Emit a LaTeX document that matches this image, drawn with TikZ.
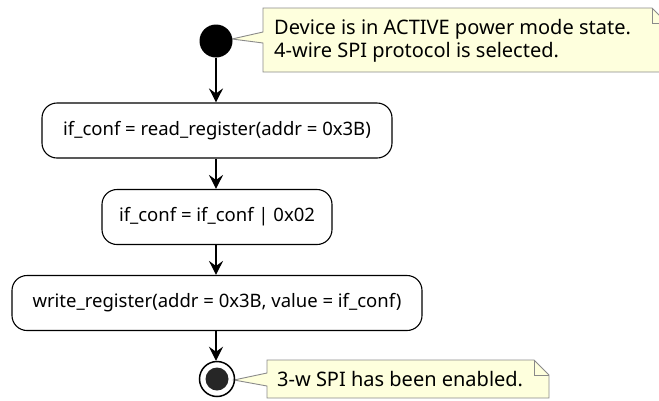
\documentclass[tikz,border=0pt]{standalone}
\usepackage{fontspec}
\setmainfont{Noto Sans}
\usetikzlibrary{arrows.meta}
\definecolor{notefill}{HTML}{FEFFDD}
\definecolor{noteline}{HTML}{8A8A8A}
\begin{document}
\begin{tikzpicture}[x=1pt,y=-1pt,
  act/.style={draw, line width=1.1pt, rounded corners=15pt, minimum height=55pt,
    font=\fontsize{18.5}{20}\selectfont, inner sep=0pt},
  flow/.style={-{Stealth[length=14pt,width=14pt,inset=5pt]}, line width=1.5pt},
  notebox/.style={draw=noteline, fill=notefill, line width=0.9pt, line join=miter},
  notefold/.style={draw=noteline, line width=0.9pt},
  notetext/.style={font=\fontsize{20}{23.5}\selectfont, align=left, anchor=west, inner sep=0pt}]
\useasboundingbox (0,0) rectangle (659,400);
% notes
\draw[notebox] (263,8) -- (652,8) -- (667,23) -- (667,72) -- (263,72) -- (263,43) -- (232,39) -- (263,32) -- cycle;
\draw[notefold] (652,8) -- (652,23) -- (667,23);
\node[notetext] (n1) at (274,41) {Device is in ACTIVE power mode state.\\4-wire SPI protocol is selected.};
\draw[notebox] (267,360) -- (534,360) -- (549,375) -- (549,398) -- (267,398) -- (267,386) -- (234,380) -- (267,373) -- cycle;
\draw[notefold] (534,360) -- (534,375) -- (549,375);
\node[notetext] (n2) at (277,379.5) {3-w SPI has been enabled.};
% flow
\node[circle, fill=black, minimum size=33pt, inner sep=0pt] (start) at (216,41) {};
\node[act, minimum width=350pt] (a1) at (217,130.5) {if\_conf = read\_register(addr = 0x3B)};
\node[act, minimum width=230pt] (a2) at (217,217) {if\_conf = if\_conf | 0x02};
\node[act, minimum width=410pt] (a3) at (217,303) {write\_register(addr = 0x3B, value = if\_conf)};
\node[circle, draw, line width=1.5pt, minimum size=35pt, inner sep=0pt] (stop) at (217,379) {};
\node[circle, fill=black!85, minimum size=23pt, inner sep=0pt] (stopdot) at (stop) {};
\draw[flow] (start.south) -- (start.south |- a1.north);
\draw[flow] (a1.south -| start) -- (start |- a2.north);
\draw[flow] (a2.south -| start) -- (start |- a3.north);
\draw[flow] (a3.south -| start) -- (start |- stop.north);
\end{tikzpicture}
\end{document}
